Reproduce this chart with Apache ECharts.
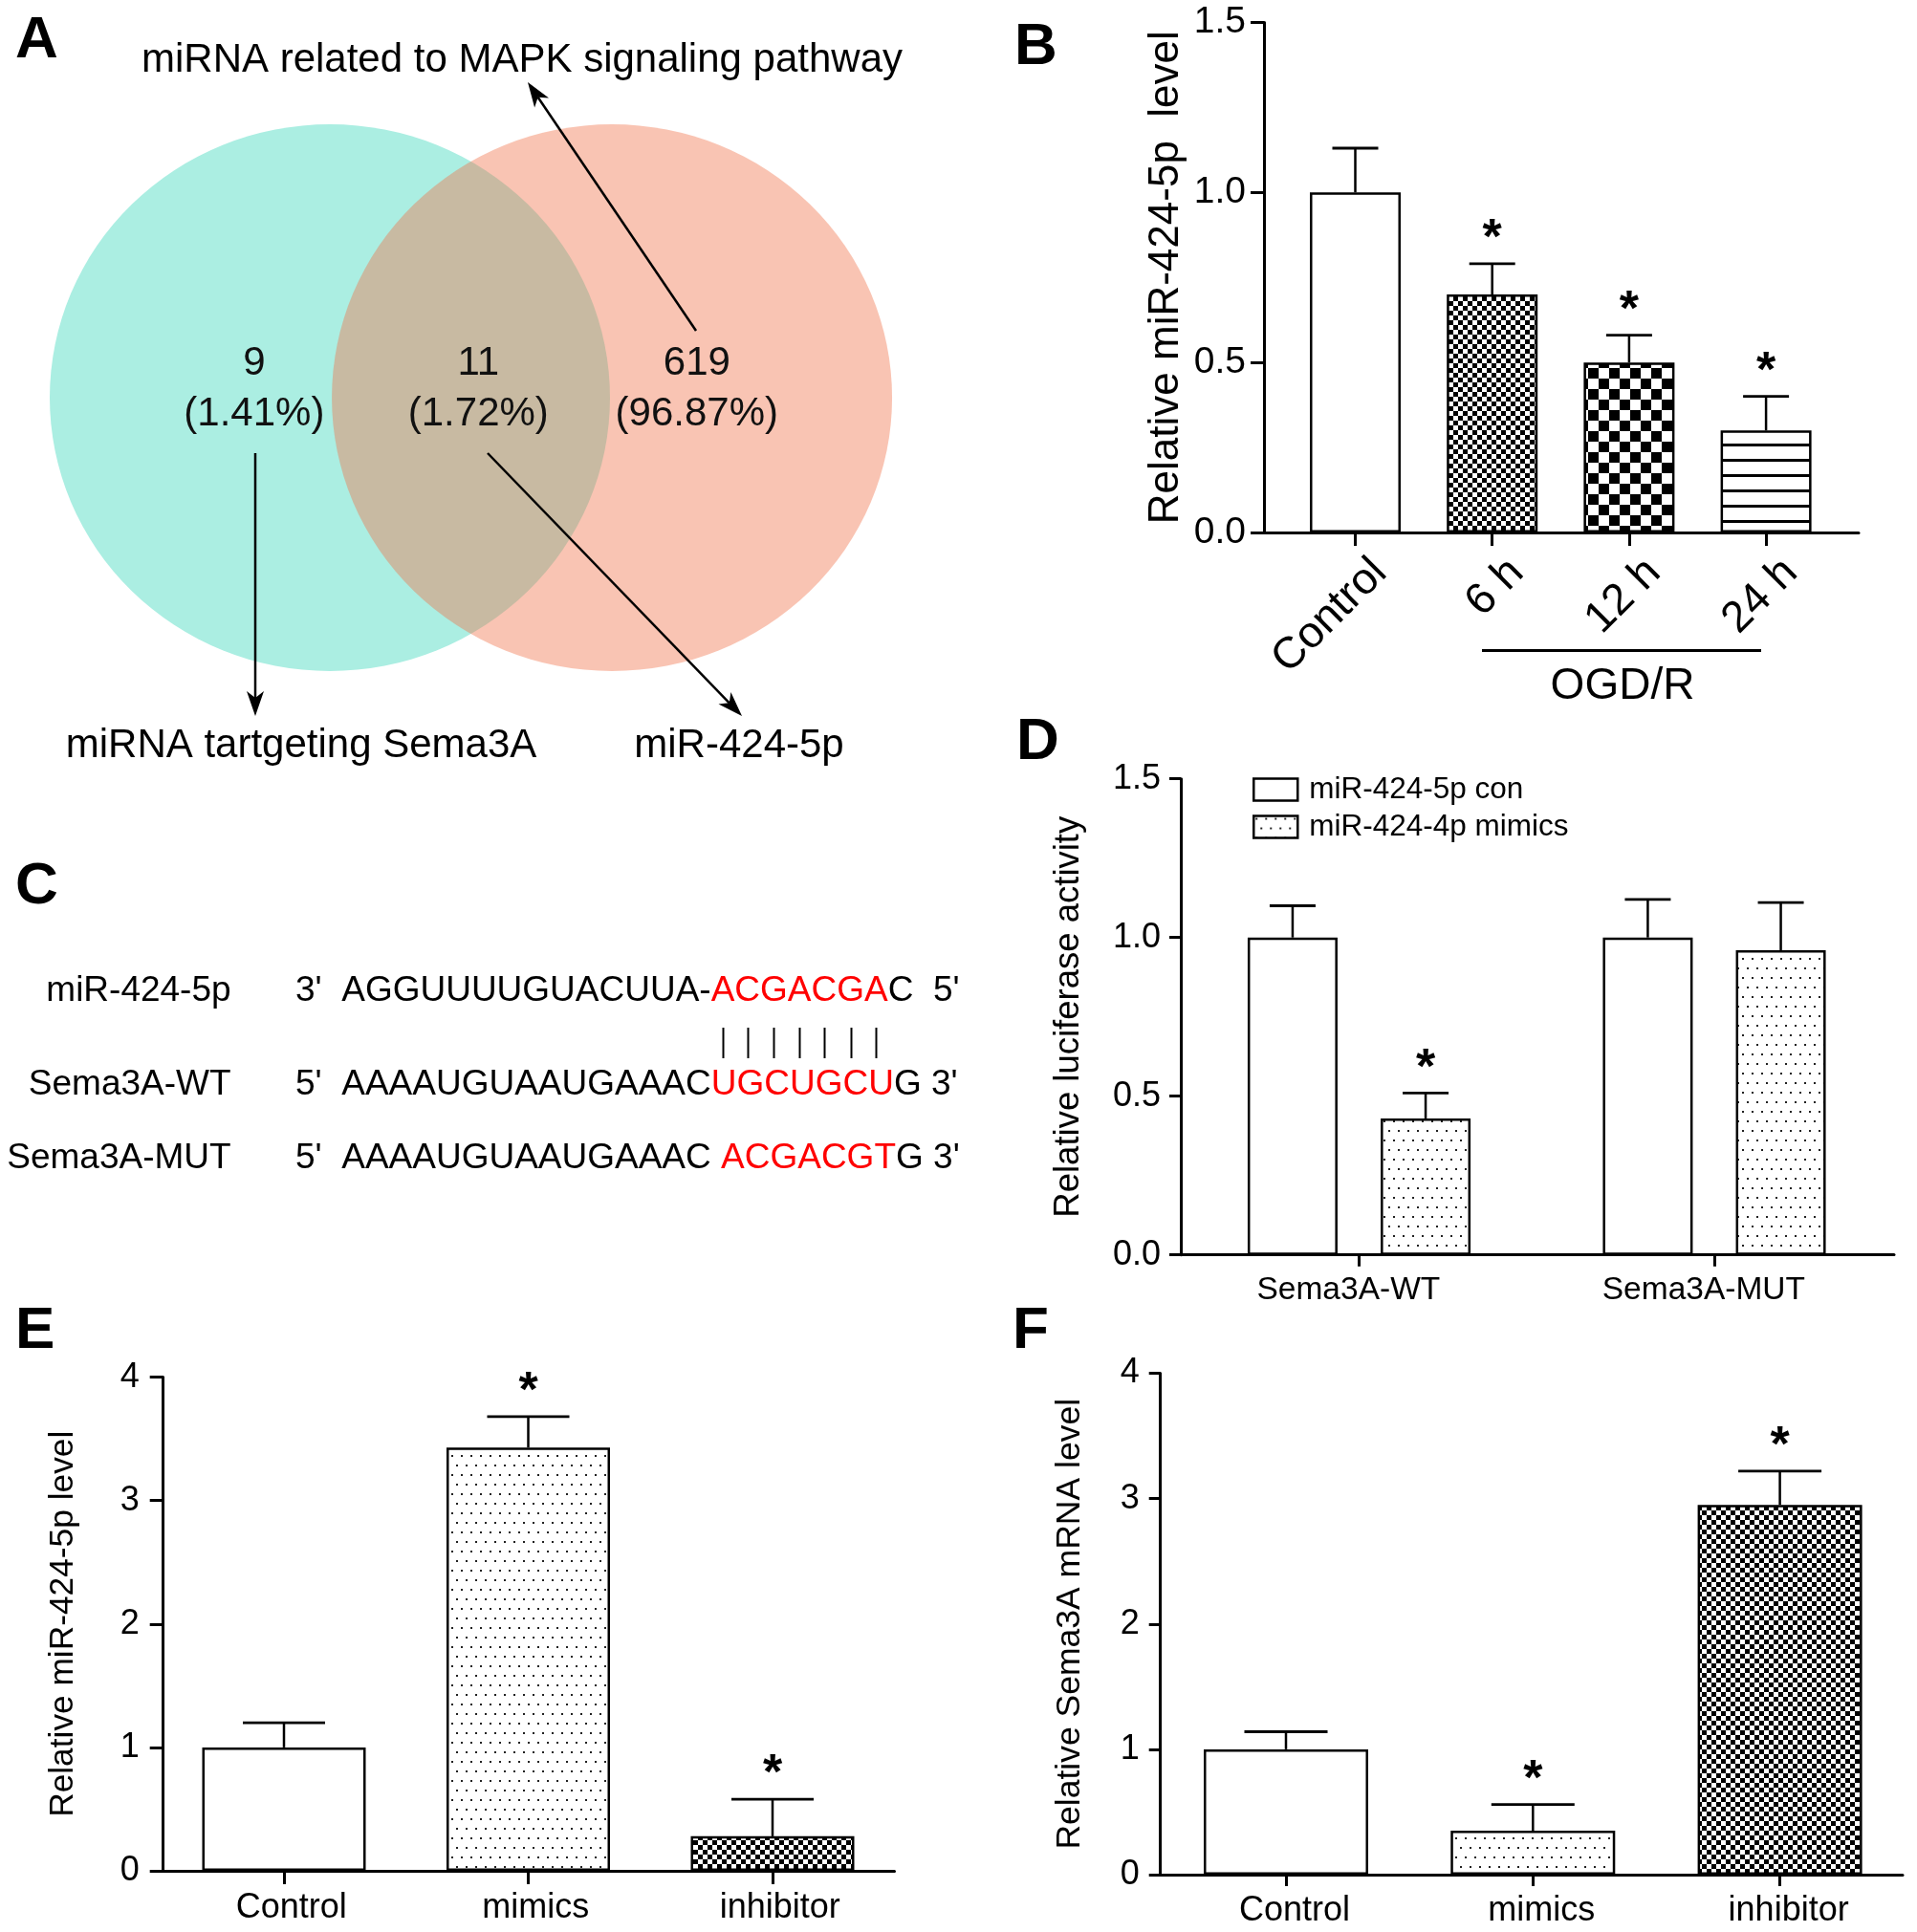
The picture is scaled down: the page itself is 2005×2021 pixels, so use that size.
<!DOCTYPE html>
<html><head><meta charset="utf-8">
<script src="https://cdn.jsdelivr.net/npm/echarts@6/dist/echarts.min.js"></script>
<style>html,body{margin:0;padding:0;background:#fff}#c{width:2005px;height:2021px}</style>
</head><body><div id="c"></div>
<script>
// ---------------- DATA ----------------
// Panel A (Venn)
const vennSetNames = ['miRNA tartgeting Sema3A', 'miRNA related to MAPK signaling pathway'];
const vennCounts = [9, 11, 619];
const vennPercents = ['1.41%', '1.72%', '96.87%'];
const vennHighlight = 'miR-424-5p';
// Panel B
const bCategories = ['Control', '6 h', '12 h', '24 h'];
const bMeans = [1.00, 0.70, 0.50, 0.30];
const bSem = [0.13, 0.09, 0.08, 0.10];
const bSig = [0, 1, 1, 1];
const bGroupLabel = 'OGD/R';
// Panel C
const seqNames = ['miR-424-5p', 'Sema3A-WT', 'Sema3A-MUT'];
const seqParts = [
  ["3'  AGGUUUUGUACUUA-", 'ACGACGA', "C  5'"],
  ["5'  AAAAUGUAAUGAAAC", 'UGCUGCU', "G 3'"],
  ["5'  AAAAUGUAAUGAAAC ", 'ACGACGT', "G 3'"]
];
// Panel D
const dCategories = ['Sema3A-WT', 'Sema3A-MUT'];
const dSeriesNames = ['miR-424-5p con', 'miR-424-4p mimics'];
const dConMeans = [1.00, 1.00];
const dConSem = [0.10, 0.12];
const dMimMeans = [0.43, 0.96];
const dMimSem = [0.08, 0.15];
const dMimSig = [1, 0];
// Panel E
const eCategories = ['Control', 'mimics', 'inhibitor'];
const eMeans = [1.00, 3.43, 0.28];
const eSem = [0.20, 0.25, 0.30];
const eSig = [0, 1, 1];
// Panel F
const fCategories = ['Control', 'mimics', 'inhibitor'];
const fMeans = [1.00, 0.35, 2.95];
const fSem = [0.14, 0.21, 0.27];
const fSig = [0, 1, 1];

// ---------------- STYLE / LAYOUT ----------------
const FONT = '"Liberation Sans", Arial, Helvetica, sans-serif';
const BLACK = '#000';

function makeCanvas(w, h, draw) {
  const c = document.createElement('canvas');
  c.width = w; c.height = h;
  const g = c.getContext('2d');
  g.fillStyle = '#fff'; g.fillRect(0, 0, w, h);
  g.fillStyle = '#000';
  draw(g);
  return c;
}
const pat = (cv) => ({ image: cv, repeat: 'repeat' });
const P_WHITE = '#ffffff';
const P_FINE = pat(makeCanvas(10, 10, g => { g.fillRect(0, 0, 5, 5); g.fillRect(5, 5, 5, 5); }));
const P_COARSE = pat(makeCanvas(22, 22, g => { g.fillRect(0, 0, 11, 11); g.fillRect(11, 11, 11, 11); }));
const P_LINES = pat(makeCanvas(16, 16, g => { g.fillRect(0, 0, 16, 3); }));
const P_DOTS = pat(makeCanvas(10, 20, g => { g.fillStyle = '#222'; g.fillRect(2, 2, 2, 2); g.fillRect(7, 12, 2, 2); }));

const LAY = {
  B: { left: 1322, top: 23.4, right: 1944, bottom: 557, c0: 1417.5, step: 143.2, barW: 95 },
  D: { left: 1235, top: 814.7, right: 1981, bottom: 1312.7, c0: 1421.5, step: 371.5, barW: 94 },
  E: { left: 170.7, top: 1440.6, right: 935.5, bottom: 1957, c0: 297, step: 255.5, barW: 171 },
  F: { left: 1213.7, top: 1436.5, right: 1990, bottom: 1961, c0: 1345, step: 258.3, barW: 172 }
};
const VENN = { left: 8.05, top: 58.5, width: 981.55, height: 715, xmin: -1.15, xmax: 2.2, ymin: -1.25, ymax: 1.25,
  cx: [0, 1.007], labelX: [-0.27, 0.53, 1.31], labelY: 0.03,
  fills: ['#ABEEE2', 'rgba(241,115,74,0.42)'] };

const STAR_GAP = 25, STAR_FS = 52;
const axisLineStyle = { color: BLACK, width: 3 };

function gridOf(l) { return { left: l.left, top: l.top, width: l.right - l.left, height: l.bottom - l.top }; }

function xAxisOf(idx, l, cats, o) {
  return {
    type: 'value', gridIndex: idx,
    min: (l.left - l.c0) / l.step, max: (l.right - l.c0) / l.step,
    axisLine: { show: true, onZero: false, lineStyle: axisLineStyle },
    axisTick: { show: true, customValues: cats.map((_, i) => i), length: o.tickLen, lineStyle: axisLineStyle },
    axisLabel: {
      customValues: cats.map((_, i) => i + o.shift),
      formatter: v => cats[Math.round(v - o.shift)],
      fontSize: o.fs, color: BLACK, fontFamily: FONT, margin: o.margin, rotate: o.rotate || 0
    },
    splitLine: { show: false }
  };
}
function yAxisOf(idx, o) {
  return {
    type: 'value', gridIndex: idx, min: 0, max: o.max, interval: o.interval,
    axisLine: { show: true, onZero: false, lineStyle: axisLineStyle },
    axisTick: { show: true, length: o.tickLen, lineStyle: axisLineStyle },
    axisLabel: { formatter: o.fmt, fontSize: o.fs, color: BLACK, fontFamily: FONT, margin: o.margin },
    splitLine: { show: false },
    name: o.name, nameLocation: 'middle', nameGap: o.nameGap,
    nameTextStyle: { fontSize: o.nameFs, color: BLACK, fontFamily: FONT }
  };
}
function barSeries(idx, name, means, fills, barW, extra) {
  return Object.assign({
    type: 'bar', name: name, xAxisIndex: idx, yAxisIndex: idx, barWidth: barW, z: 2,
    itemStyle: { borderColor: BLACK, borderWidth: 2.5 },
    data: means.map((v, i) => ({ value: [i, v], itemStyle: { color: Array.isArray(fills) ? fills[i] : fills } }))
  }, extra || {});
}
function errSeries(idx, means, sems, sigs, offset, capW) {
  return {
    type: 'custom', xAxisIndex: idx, yAxisIndex: idx, z: 5, silent: true,
    data: means.map((m, i) => [i, m, sems[i], sigs[i]]),
    encode: { x: 0, y: 1 },
    renderItem(params, api) {
      const x = api.value(0), m = api.value(1), s = api.value(2), g = api.value(3);
      const p0 = api.coord([x, m]), p1 = api.coord([x, m + s]);
      const cx = p0[0] + offset;
      const ch = [
        { type: 'line', shape: { x1: cx, y1: p0[1], x2: cx, y2: p1[1] }, style: { stroke: BLACK, lineWidth: 2.5 } },
        { type: 'line', shape: { x1: cx - capW / 2, y1: p1[1], x2: cx + capW / 2, y2: p1[1] }, style: { stroke: BLACK, lineWidth: 2.8 } }
      ];
      if (g) ch.push({ type: 'text', x: cx, y: p1[1] - STAR_GAP,
        style: { text: '*', fontSize: STAR_FS, fontFamily: FONT, fontWeight: 'bold', fill: BLACK, align: 'center', verticalAlign: 'middle' } });
      return { type: 'group', children: ch };
    }
  };
}

// ---------- graphics (annotations) ----------
function txt(x, y, text, fs, o) {
  o = o || {};
  return { type: 'text', x: x, y: y, silent: true, z: 100,
    style: Object.assign({ text: text, fontSize: fs, fontFamily: FONT, fill: BLACK, align: o.align || 'center', verticalAlign: 'middle',
      fontWeight: o.weight || 'normal' }, o.style || {}) };
}
function arrow(x1, y1, x2, y2) {
  const dx = x2 - x1, dy = y2 - y1, L = Math.hypot(dx, dy), ux = dx / L, uy = dy / L, px = -uy, py = ux;
  const hl = 26, hw = 9, notch = 7;
  const bx = x2 - ux * hl, by = y2 - uy * hl;
  return [
    { type: 'line', silent: true, z: 100, shape: { x1: x1, y1: y1, x2: x2 - ux * (hl - notch), y2: y2 - uy * (hl - notch) }, style: { stroke: BLACK, lineWidth: 2.5 } },
    { type: 'polygon', silent: true, z: 100, shape: { points: [[x2, y2], [bx + px * hw, by + py * hw], [x2 - ux * (hl - notch), y2 - uy * (hl - notch)], [bx - px * hw, by - py * hw]] }, style: { fill: BLACK } }
  ];
}
const graphics = [];
// panel letters
[['A', 16, 43], ['B', 1061, 50], ['C', 16, 928], ['D', 1063, 777], ['E', 16, 1393], ['F', 1059, 1393]]
  .forEach(([t, x, y]) => graphics.push(txt(x, y, t, 62, { align: 'left', weight: 'bold' })));
// Venn annotations
graphics.push(txt(546, 63, vennSetNames[1], 42));
graphics.push(txt(315, 780, vennSetNames[0], 42));
graphics.push(txt(773, 780, vennHighlight, 42));
graphics.push(...arrow(728, 346, 552, 86));
graphics.push(...arrow(267, 474, 267, 749));
graphics.push(...arrow(510, 474, 776, 749));
// Panel C
const C_FS = 37, C_NAME_RIGHT = 241.6, C_SEQ_X = 309, C_ROWS_Y = [1037, 1135, 1212];
const mctx = document.createElement('canvas').getContext('2d');
mctx.font = C_FS + 'px "Liberation Sans"';
seqNames.forEach((n, i) => {
  graphics.push(txt(C_NAME_RIGHT, C_ROWS_Y[i], n, C_FS, { align: 'right' }));
  graphics.push({ type: 'text', x: C_SEQ_X, y: C_ROWS_Y[i], silent: true, z: 100,
    style: { text: seqParts[i][0] + '{r|' + seqParts[i][1] + '}' + seqParts[i][2], fontSize: C_FS, fontFamily: FONT, fill: BLACK,
      align: 'left', verticalAlign: 'middle',
      rich: { r: { fill: '#ff0000', fontSize: C_FS, fontFamily: FONT } } } });
});
{
  let x = C_SEQ_X + mctx.measureText(seqParts[0][0]).width;
  for (const ch of seqParts[0][1]) {
    const w = mctx.measureText(ch).width;
    const cx = Math.round(x + w / 2) + 0.5;
    graphics.push({ type: 'line', silent: true, z: 100, shape: { x1: cx, y1: 1075, x2: cx, y2: 1107 }, style: { stroke: BLACK, lineWidth: 2 } });
    x += w;
  }
}
// Panel B group annotation
graphics.push({ type: 'line', silent: true, z: 100, shape: { x1: 1550, y1: 680.5, x2: 1842, y2: 680.5 }, style: { stroke: BLACK, lineWidth: 3 } });
graphics.push(txt(1697, 718, bGroupLabel, 46));

// ---------------- OPTION ----------------
const dGapPx = 0.48 * LAY.D.barW;
const dOff = (LAY.D.barW + dGapPx) / 2;

const option = {
  animation: false,
  backgroundColor: '#fff',
  textStyle: { fontFamily: FONT },
  grid: [
    { left: VENN.left, top: VENN.top, width: VENN.width, height: VENN.height },
    gridOf(LAY.B), gridOf(LAY.D), gridOf(LAY.E), gridOf(LAY.F)
  ],
  xAxis: [
    { type: 'value', gridIndex: 0, min: VENN.xmin, max: VENN.xmax, show: false },
    xAxisOf(1, LAY.B, bCategories, { tickLen: 14, shift: 0.18, fs: 46, margin: 35, rotate: 45 }),
    xAxisOf(2, LAY.D, dCategories, { tickLen: 12, shift: -0.03, fs: 33.5, margin: 20 }),
    xAxisOf(3, LAY.E, eCategories, { tickLen: 14, shift: 0.03, fs: 36, margin: 21 }),
    xAxisOf(4, LAY.F, fCategories, { tickLen: 12, shift: 0.035, fs: 36, margin: 20 })
  ],
  yAxis: [
    { type: 'value', gridIndex: 0, min: VENN.ymin, max: VENN.ymax, show: false },
    yAxisOf(1, { max: 1.5, interval: 0.5, fmt: v => v.toFixed(1), fs: 39, margin: 19, tickLen: 14,
      name: 'Relative miR-424-5p  level', nameFs: 44, nameGap: 80 }),
    yAxisOf(2, { max: 1.5, interval: 0.5, fmt: v => v.toFixed(1), fs: 36, margin: 21, tickLen: 12,
      name: 'Relative luciferase activity', nameFs: 36.5, nameGap: 99 }),
    yAxisOf(3, { max: 4, interval: 1, fmt: v => String(v), fs: 36, margin: 25, tickLen: 14,
      name: 'Relative miR-424-5p level', nameFs: 35.3, nameGap: 87 }),
    yAxisOf(4, { max: 4, interval: 1, fmt: v => String(v), fs: 36, margin: 22, tickLen: 12,
      name: 'Relative Sema3A mRNA level', nameFs: 35.5, nameGap: 76 })
  ],
  legend: {
    data: dSeriesNames, orient: 'vertical', left: 1305, top: 805, itemWidth: 46, itemHeight: 23, itemGap: 7,
    icon: 'rect', selectedMode: false,
    itemStyle: { borderColor: BLACK, borderWidth: 2.5 },
    textStyle: { fontSize: 31.5, color: BLACK, fontFamily: FONT, padding: [0, 0, 0, 7] }
  },
  graphic: graphics,
  series: [
    // Venn circles
    {
      type: 'custom', xAxisIndex: 0, yAxisIndex: 0, silent: true, z: 1,
      data: VENN.cx.map((cx, i) => [cx, 0, i]),
      encode: { x: 0, y: 1 },
      renderItem(params, api) {
        const c = api.coord([api.value(0), api.value(1)]);
        const s = api.size([1, 1]);
        return { type: 'circle', x: c[0], y: c[1], scaleY: s[1] / s[0], shape: { cx: 0, cy: 0, r: s[0] },
          style: { fill: VENN.fills[api.value(2)] } };
      }
    },
    // Venn region counts
    {
      type: 'custom', xAxisIndex: 0, yAxisIndex: 0, silent: true, z: 3,
      data: vennCounts.map((n, i) => [VENN.labelX[i], VENN.labelY, i]),
      encode: { x: 0, y: 1 },
      renderItem(params, api) {
        const i = api.value(2);
        const c = api.coord([api.value(0), api.value(1)]);
        return { type: 'text', x: c[0], y: c[1],
          style: { text: vennCounts[i] + '\n(' + vennPercents[i] + ')', fontSize: 42, fontFamily: FONT, fill: '#111',
            align: 'center', verticalAlign: 'middle', lineHeight: 53 } };
      }
    },
    // Panel B
    barSeries(1, 'B', bMeans, [P_WHITE, P_FINE, P_COARSE, P_LINES], LAY.B.barW),
    errSeries(1, bMeans, bSem, bSig, 0, 48),
    // Panel D
    barSeries(2, dSeriesNames[0], dConMeans, P_WHITE, LAY.D.barW, { barGap: '48%', itemStyle: { color: P_WHITE, borderColor: BLACK, borderWidth: 2.5 } }),
    barSeries(2, dSeriesNames[1], dMimMeans, P_DOTS, LAY.D.barW, { barGap: '48%', itemStyle: { color: P_DOTS, borderColor: BLACK, borderWidth: 2.5 } }),
    errSeries(2, dConMeans, dConSem, [0, 0], -dOff, 48),
    errSeries(2, dMimMeans, dMimSem, dMimSig, dOff, 48),
    // Panel E
    barSeries(3, 'E', eMeans, [P_WHITE, P_DOTS, P_FINE], LAY.E.barW),
    errSeries(3, eMeans, eSem, eSig, 0, 86),
    // Panel F
    barSeries(4, 'F', fMeans, [P_WHITE, P_DOTS, P_FINE], LAY.F.barW),
    errSeries(4, fMeans, fSem, fSig, 0, 87)
  ]
};

const chart = echarts.init(document.getElementById('c'));
chart.setOption(option);
</script>
</body></html>
